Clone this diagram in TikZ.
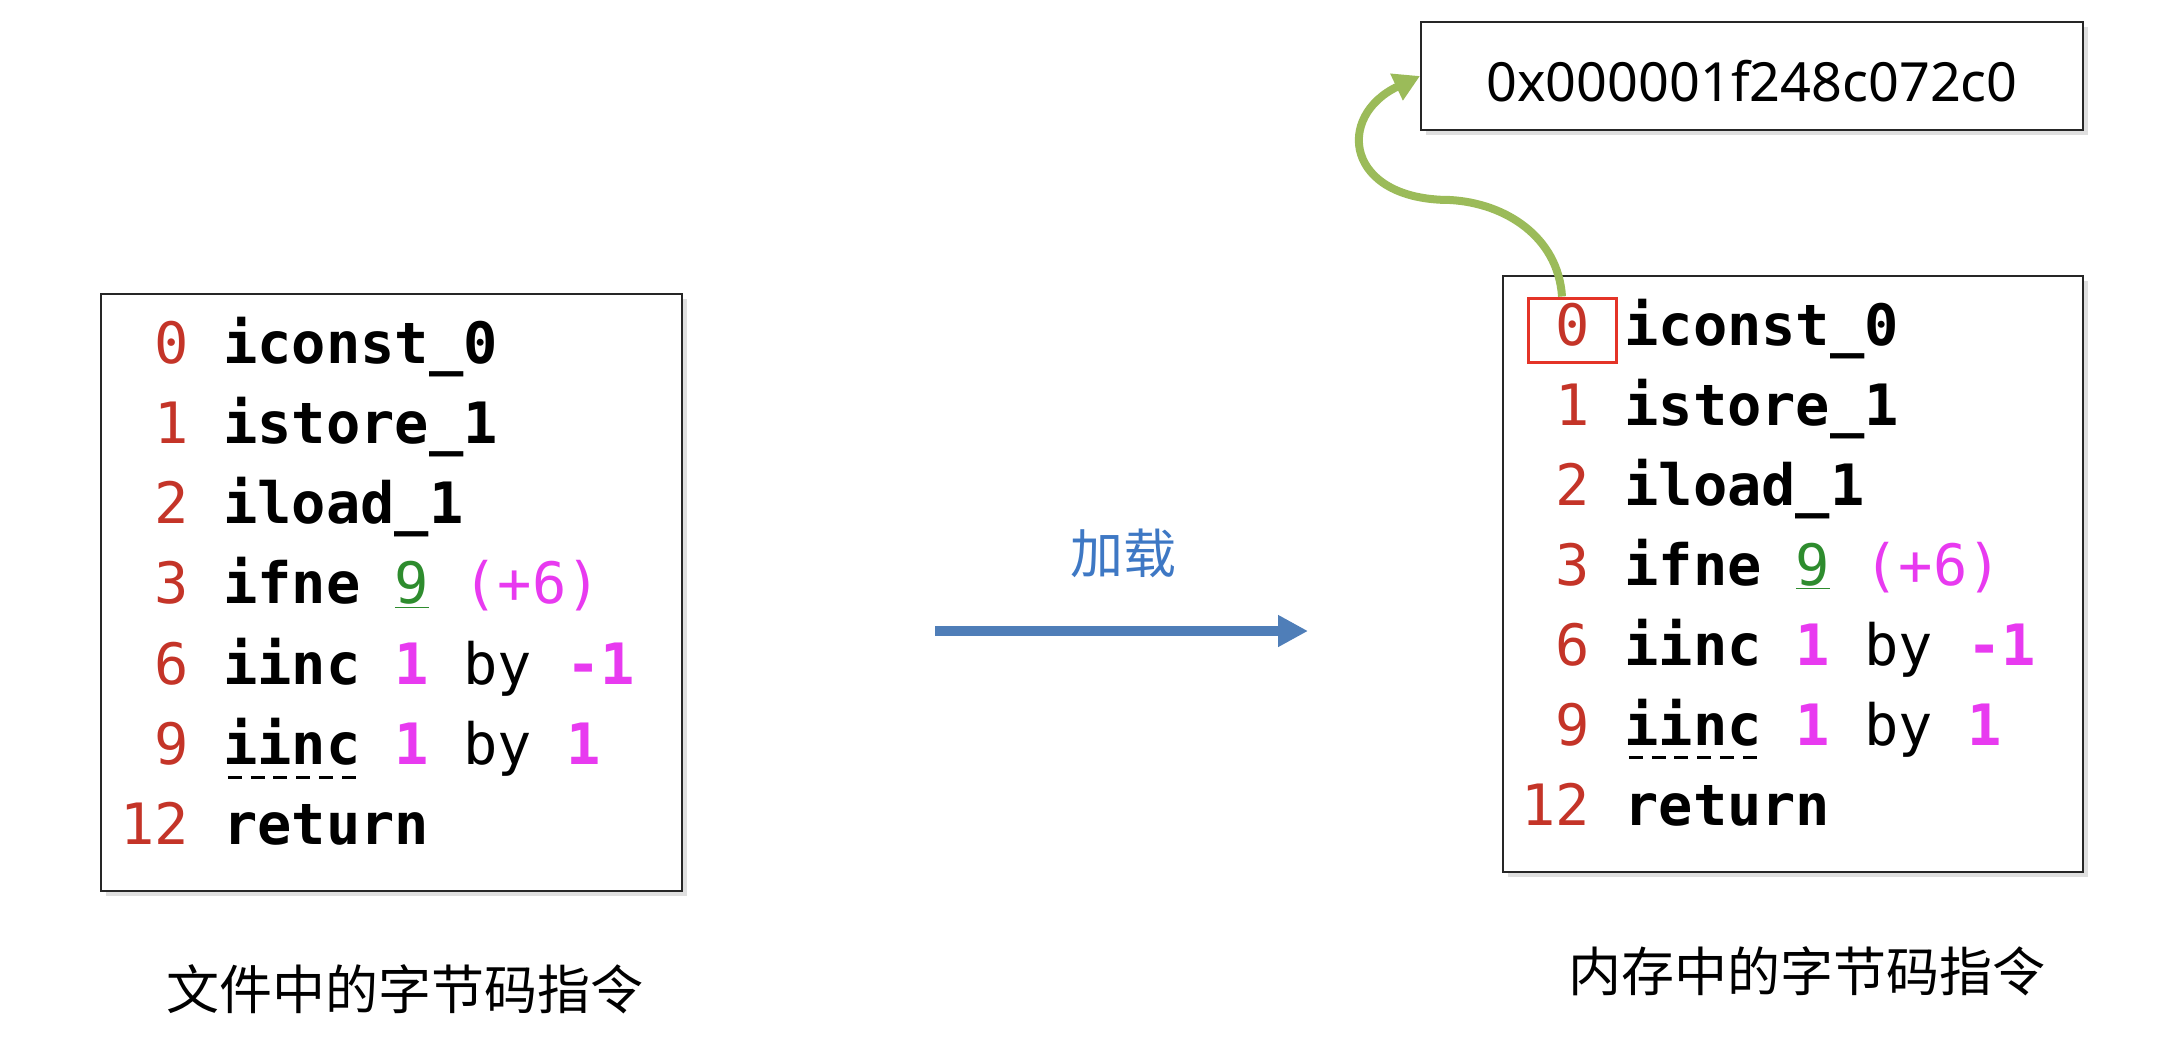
\documentclass[tikz,border=0pt]{standalone}
\usepackage{fontspec}
\setmainfont{Noto Sans}
\setmonofont{DejaVu Sans Mono}
\newfontfamily\cjk{Noto Sans CJK SC}
\usetikzlibrary{arrows.meta,shadows,positioning}

\definecolor{numred}{RGB}{196,52,40}
\definecolor{argmag}{RGB}{232,58,240}
\definecolor{jmpgreen}{RGB}{46,140,46}
\definecolor{loadblue}{RGB}{79,126,184}
\definecolor{lblblue}{RGB}{62,120,196}
\definecolor{linkgreen}{RGB}{155,187,89}
\definecolor{markred}{RGB}{228,52,40}

\newcommand{\bcnum}[1]{\textcolor{numred}{#1}}
\newcommand{\bcop}[1]{\textbf{#1}}
\newcommand{\bcarg}[1]{\textcolor{argmag}{\textbf{#1}}}
\newsavebox\opbox
\newcommand{\dashop}[1]{\sbox\opbox{#1}\rlap{\raisebox{-7pt}{\leaders\hbox to 11.4pt{\hss\rule{7pt}{1.3pt}\hss}\hskip\wd\opbox}}\usebox\opbox}

% the listing shown in both boxes
\newcommand{\bclist}{%
  {\bcnum{\phantom{1}0} \bcop{iconst\_0}},
  {\bcnum{\phantom{1}1} \bcop{istore\_1}},
  {\bcnum{\phantom{1}2} \bcop{iload\_1}},
  {\bcnum{\phantom{1}3} \bcop{ifne} \textcolor{jmpgreen}{\underline{9}} \textcolor{argmag}{(+6)}},
  {\bcnum{\phantom{1}6} \bcop{iinc} \bcarg{1} by \bcarg{-1}},
  {\bcnum{\phantom{1}9} \dashop{\bcop{iinc}} \bcarg{1} by \bcarg{1}},
  {\bcnum{12} \bcop{return}}}

\tikzset{
  codebox/.style={draw=black!85, line width=1pt, fill=white, inner sep=0pt,
    drop shadow={opacity=0.25, shadow xshift=2.5pt, shadow yshift=-2.5pt}},
  codeline/.style={anchor=base west, inner sep=0pt, font=\ttfamily\fontsize{28.5}{34}\selectfont},
  caption/.style={font=\cjk\fontsize{26.5}{32}\selectfont},
  loadarrow/.style={draw=loadblue, line width=5pt, -{Triangle[length=15pt, width=15pt]}},
  linkarrow/.style={draw=linkgreen, line width=4pt, -{Triangle[length=13pt, width=14pt]}},
}

\begin{document}
\begin{tikzpicture}[x=0.5pt, y=-0.5pt]
  \useasboundingbox (0,0) rectangle (2166,1044);

  \node (filebox) [codebox, minimum width=290.5pt, minimum height=298.5pt] at (391.5,592.5) {};
  \node (membox) [codebox, minimum width=290pt, minimum height=298pt] at (1793,574) {};
  \node (addrbox) [codebox, minimum width=331pt, minimum height=54pt,
    font=\fontsize{27}{32}\selectfont, text height=26pt] at (1752,76) {0x000001f248c072c0};

  \foreach \code [count=\i from 0] in \bclist {
    \node (f\i) [codeline] at (120,{363+80.3*\i}) {\code};
    \node (m\i) [codeline] at (1521,{345+80*\i}) {\code};
  }

  \node (zeromark) [draw=markred, line width=1.5pt, minimum width=44pt, minimum height=32pt] at (1572,330) {};

  \coordinate (loadstart) at (935,631);
  \coordinate (loadend) at (1308,631);
  \draw[loadarrow] (loadstart) -- (loadend);
  \node (loadlbl) [caption, text=lblblue] at (1123,553) {加载};

  \draw[linkarrow] ([xshift=-5pt]zeromark.north) .. controls +(-4,-60) and +(55,3) .. (1450,200)
    .. controls +(-105,0) and +(-85,40) .. (addrbox.west);

  \node (filecap) [caption] at (405,989) {文件中的字节码指令};
  \node (memcap) [caption] at (1807,971) {内存中的字节码指令};
\end{tikzpicture}
\end{document}
